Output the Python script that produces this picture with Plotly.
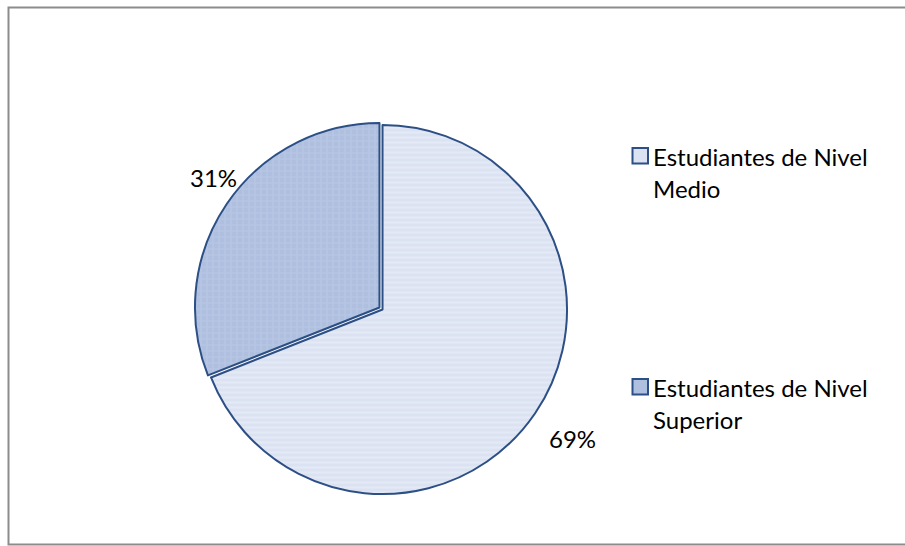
import plotly.graph_objects as go

# Student distribution by education level
categories = ["Estudiantes de Nivel Medio", "Estudiantes de Nivel Superior"]
legend_lines = [["Estudiantes de Nivel", "Medio"], ["Estudiantes de Nivel", "Superior"]]
values = [69, 31]

W, H = 905, 546
FONT = "Lato"
EDGE = "#2c4f85"
fills = ["#dbe2f1", "#aebfdf"]
pattern_fg = ["#eef1f9", "#c3cfe8"]
pattern_shape = ["-", "+"]


def px(x):
    return x / W


def py(y):
    return 1 - y / H


total = sum(values)
pcts = [f"{round(v / total * 100)}%" for v in values]

# pie geometry (pixels)
cx, cy, r, pull = 381, 308.5, 184.5, 0.01
half = r * (1 + pull)

fig = go.Figure(
    go.Pie(
        labels=categories,
        values=values,
        sort=False,
        direction="clockwise",
        rotation=0,
        pull=[pull, pull],
        textinfo="none",
        hoverinfo="label+percent",
        showlegend=False,
        marker=dict(
            colors=fills,
            line=dict(color=EDGE, width=2),
            pattern=dict(
                shape=pattern_shape,
                fgcolor=pattern_fg,
                bgcolor=fills,
                size=[5, 6],
                solidity=[0.45, 0.35],
                fillmode="overlay",
            ),
        ),
        domain=dict(x=[px(cx - half), px(cx + half)], y=[py(cy + half), py(cy - half)]),
    )
)

shapes = [
    # chart frame
    dict(type="rect", xref="paper", yref="paper",
         x0=px(8.5), x1=px(912), y0=py(544.5), y1=py(7.5),
         line=dict(color="#8c8c8c", width=2), fillcolor="rgba(0,0,0,0)"),
]

annotations = []
# percentage labels
label_pos = [(572, 438), (213, 178)]
for txt, (lx, ly) in zip(pcts, label_pos):
    annotations.append(dict(text=txt, x=px(lx), y=py(ly), xref="paper", yref="paper",
                            showarrow=False, xanchor="center", yanchor="middle",
                            font=dict(family=FONT, size=24, color="#000000")))

# legend
legend_top = [148, 379]
for i, (lines, top) in enumerate(zip(legend_lines, legend_top)):
    shapes.append(dict(type="rect", xref="paper", yref="paper",
                       x0=px(632.5), x1=px(648), y0=py(top + 15.5), y1=py(top),
                       line=dict(color=EDGE, width=2), fillcolor=fills[i]))
    for j, line in enumerate(lines):
        annotations.append(dict(text=line, x=px(651), y=py(top + 8 + 32 * j),
                                xref="paper", yref="paper", showarrow=False,
                                xanchor="left", yanchor="middle",
                                font=dict(family=FONT, size=24, color="#000000")))

fig.update_layout(
    width=W, height=H,
    margin=dict(l=0, r=0, t=0, b=0),
    paper_bgcolor="white", plot_bgcolor="white",
    shapes=shapes, annotations=annotations,
)

fig.write_html("out.html")
